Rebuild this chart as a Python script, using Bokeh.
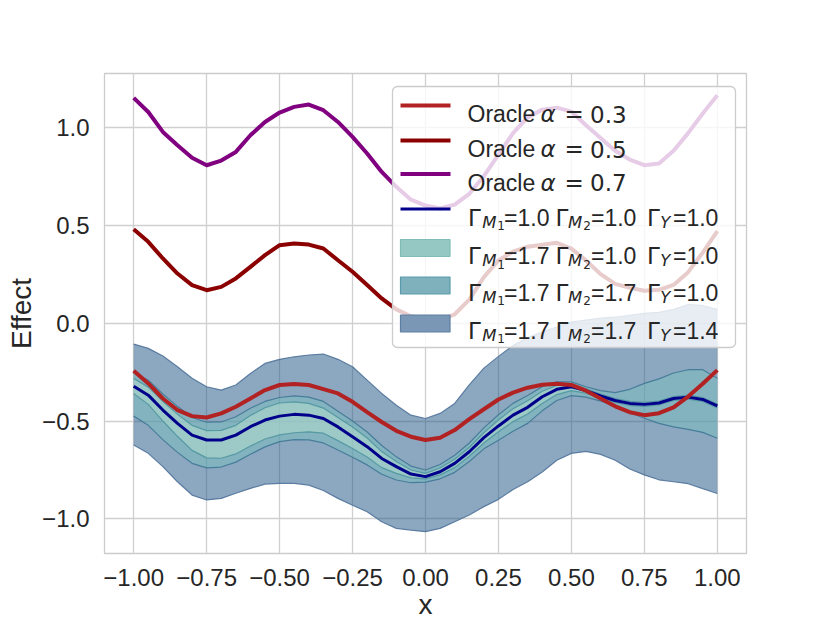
from bokeh.plotting import figure
from bokeh.models import ColumnDataSource, FixedTicker
from bokeh.embed import file_html
from bokeh.resources import INLINE
from bokeh.core.properties import value

# ---------------- data ----------------
x_vals = [-1.00, -0.95, -0.90, -0.85, -0.80, -0.75, -0.70, -0.65, -0.60, -0.55,
          -0.50, -0.45, -0.40, -0.35, -0.30, -0.25, -0.20, -0.15, -0.10, -0.05,
          0.00, 0.05, 0.10, 0.15, 0.20, 0.25, 0.30, 0.35, 0.40, 0.45,
          0.50, 0.55, 0.60, 0.65, 0.70, 0.75, 0.80, 0.85, 0.90, 0.95, 1.00]

oracle_03 = [-0.243, -0.308, -0.385, -0.444, -0.475, -0.482, -0.461, -0.427, -0.385, -0.342,
             -0.316, -0.311, -0.316, -0.337, -0.359, -0.402, -0.455, -0.505, -0.550, -0.580,
             -0.597, -0.585, -0.546, -0.490, -0.440, -0.390, -0.355, -0.330, -0.315, -0.310,
             -0.316, -0.345, -0.385, -0.425, -0.455, -0.470, -0.460, -0.430, -0.375, -0.310, -0.240]
oracle_05 = [0.479, 0.415, 0.330, 0.253, 0.194, 0.168, 0.185, 0.228, 0.287, 0.347,
             0.398, 0.406, 0.401, 0.381, 0.321, 0.262, 0.194, 0.126, 0.070, 0.035,
             0.020, 0.015, 0.045, 0.120, 0.235, 0.320, 0.365, 0.390, 0.400, 0.410,
             0.380, 0.320, 0.250, 0.200, 0.180, 0.165, 0.170, 0.195, 0.260, 0.360, 0.470]
oracle_07 = [1.150, 1.078, 0.976, 0.908, 0.844, 0.806, 0.830, 0.874, 0.959, 1.027,
             1.075, 1.104, 1.116, 1.087, 1.027, 0.951, 0.866, 0.772, 0.696, 0.630,
             0.600, 0.585, 0.605, 0.660, 0.750, 0.860, 0.970, 1.050, 1.090, 1.100,
             1.080, 1.010, 0.945, 0.880, 0.835, 0.806, 0.815, 0.880, 0.970, 1.070, 1.163]

base_effect = [-0.322, -0.368, -0.444, -0.512, -0.572, -0.597, -0.597, -0.572, -0.529, -0.495,
               -0.475, -0.466, -0.470, -0.487, -0.530, -0.580, -0.631, -0.691, -0.733, -0.771,
               -0.784, -0.759, -0.716, -0.657, -0.585, -0.525, -0.470, -0.430, -0.376, -0.338,
               -0.325, -0.345, -0.372, -0.395, -0.410, -0.415, -0.408, -0.385, -0.378, -0.390, -0.423]

m1_upper = [-0.283, -0.327, -0.400, -0.465, -0.522, -0.549, -0.548, -0.522, -0.472, -0.432,
            -0.408, -0.402, -0.410, -0.434, -0.482, -0.530, -0.587, -0.656, -0.707, -0.750,
            -0.767, -0.740, -0.695, -0.635, -0.560, -0.495, -0.437, -0.396, -0.348, -0.318,
            -0.312, -0.335, -0.362, -0.385, -0.400, -0.405, -0.398, -0.375, -0.368, -0.380, -0.413]
m1_lower = [-0.359, -0.415, -0.500, -0.578, -0.650, -0.688, -0.690, -0.668, -0.628, -0.592,
            -0.571, -0.560, -0.555, -0.562, -0.600, -0.640, -0.684, -0.738, -0.767, -0.790,
            -0.795, -0.775, -0.738, -0.680, -0.612, -0.555, -0.503, -0.464, -0.410, -0.365,
            -0.345, -0.358, -0.382, -0.405, -0.420, -0.425, -0.418, -0.395, -0.388, -0.400, -0.433]

m1m2_upper = [-0.254, -0.292, -0.362, -0.425, -0.482, -0.506, -0.505, -0.478, -0.435, -0.400,
              -0.380, -0.372, -0.378, -0.400, -0.450, -0.500, -0.556, -0.625, -0.683, -0.730,
              -0.750, -0.722, -0.675, -0.612, -0.535, -0.468, -0.410, -0.370, -0.325, -0.300,
              -0.300, -0.325, -0.345, -0.355, -0.338, -0.308, -0.285, -0.255, -0.238, -0.238, -0.282]
m1m2_lower = [-0.475, -0.522, -0.595, -0.660, -0.716, -0.739, -0.735, -0.710, -0.670, -0.632,
              -0.605, -0.595, -0.596, -0.612, -0.648, -0.685, -0.724, -0.772, -0.801, -0.815,
              -0.812, -0.795, -0.762, -0.707, -0.642, -0.598, -0.552, -0.512, -0.448, -0.395,
              -0.370, -0.378, -0.398, -0.425, -0.458, -0.486, -0.512, -0.530, -0.543, -0.558, -0.588]

all_upper = [-0.107, -0.129, -0.168, -0.223, -0.282, -0.325, -0.342, -0.316, -0.257, -0.206,
             -0.185, -0.172, -0.163, -0.158, -0.185, -0.223, -0.291, -0.359, -0.419, -0.470,
             -0.487, -0.461, -0.410, -0.315, -0.230, -0.170, -0.115, -0.075, -0.045, -0.020,
             0.005, 0.015, 0.025, 0.030, 0.040, 0.050, 0.055, 0.070, 0.095, 0.090, 0.070]
all_lower = [-0.622, -0.665, -0.733, -0.810, -0.878, -0.903, -0.895, -0.869, -0.844, -0.822,
             -0.818, -0.818, -0.827, -0.855, -0.895, -0.930, -0.963, -1.014, -1.048, -1.057,
             -1.065, -1.048, -1.014, -0.980, -0.937, -0.900, -0.850, -0.810, -0.760, -0.700,
             -0.665, -0.655, -0.670, -0.700, -0.745, -0.775, -0.800, -0.810, -0.820, -0.845, -0.870]

oracle_alphas = ["0.3", "0.5", "0.7"]
gamma_m1 = ["1.0", "1.7", "1.7", "1.7"]
gamma_m2 = ["1.0", "1.0", "1.7", "1.7"]
gamma_y = ["1.0", "1.0", "1.0", "1.4"]

x_ticks = [-1.0, -0.75, -0.5, -0.25, 0.0, 0.25, 0.5, 0.75, 1.0]
x_tick_labels = ["\u22121.00", "\u22120.75", "\u22120.50", "\u22120.25", "0.00", "0.25", "0.50", "0.75", "1.00"]
y_ticks = [-1.0, -0.5, 0.0, 0.5, 1.0]
y_tick_labels = ["\u22121.0", "\u22120.5", "0.0", "0.5", "1.0"]

# ---------------- styles ----------------
C_O3, C_O5, C_O7, C_BASE = "#b22222", "#8b0000", "#800080", "#00008b"
B1_FILL, B2_FILL, B3_FILL = "#b7dfcf", "#77c0bd", "#1a4f82"
B1_EDGE, B2_EDGE, B3_EDGE = "#5096a0", "#417896", "#50739a"
LG_FILL = ["#96c8c3", "#7fb1bd", "#7a97b5"]
LG_EDGE = ["#7fbcb6", "#5a9aad", "#5d7fa3"]
TXT = "#262626"
GRID = "#d0d0d0"
ARIAL = "Liberation Sans"
MATH = "DejaVu Sans"

all_y = oracle_03 + oracle_05 + oracle_07 + base_effect + all_upper + all_lower
ymin, ymax = min(all_y), max(all_y)
pad = 0.05 * (ymax - ymin)
X0, X1 = -1.1, 1.1
Y0, Y1 = ymin - pad, ymax + pad

p = figure(width=830, height=623, x_range=(X0, X1), y_range=(Y0, Y1),
           output_backend="svg", toolbar_location=None,
           min_border_left=104, min_border_right=84, min_border_top=73, min_border_bottom=70)
p.background_fill_color = "white"
p.border_fill_color = "white"
p.outline_line_color = "#cccccc"
p.outline_line_width = 1.3

p.xaxis.ticker = FixedTicker(ticks=x_ticks)
p.xaxis.major_label_overrides = dict(zip(x_ticks, x_tick_labels))
p.yaxis.ticker = FixedTicker(ticks=y_ticks)
p.yaxis.major_label_overrides = dict(zip(y_ticks, y_tick_labels))
p.xaxis.axis_label = "x"
p.yaxis.axis_label = "Effect"
for ax in (p.xaxis[0], p.yaxis[0]):
    ax.axis_line_color = None
    ax.major_tick_line_color = None
    ax.minor_tick_line_color = None
    ax.major_tick_out = 0
    ax.major_tick_in = 0
    ax.minor_tick_out = 0
    ax.minor_tick_in = 0
    ax.major_label_text_font = ARIAL
    ax.major_label_text_font_size = "24px"
    ax.major_label_text_color = TXT
    ax.axis_label_text_font = ARIAL
    ax.axis_label_text_font_size = "28px"
    ax.axis_label_text_font_style = "normal"
    ax.axis_label_text_color = TXT
p.xaxis.major_label_standoff = 15
p.xaxis.axis_label_standoff = 0
p.yaxis.major_label_standoff = 15
p.yaxis.axis_label_standoff = 2
for g in (p.xgrid[0], p.ygrid[0]):
    g.grid_line_color = GRID
    g.grid_line_width = 1.3

src = ColumnDataSource(dict(x=x_vals, o3=oracle_03, o5=oracle_05, o7=oracle_07, base=base_effect,
                            b1u=m1_upper, b1l=m1_lower, b2u=m1m2_upper, b2l=m1m2_lower,
                            b3u=all_upper, b3l=all_lower))

# bands
p.varea(x="x", y1="b3l", y2="b3u", source=src, fill_color=B3_FILL, fill_alpha=0.5)
p.line("x", "b3u", source=src, line_color=B3_EDGE, line_width=1.2, line_alpha=0.9)
p.line("x", "b3l", source=src, line_color=B3_EDGE, line_width=1.2, line_alpha=0.9)
p.varea(x="x", y1="b2l", y2="b2u", source=src, fill_color=B2_FILL, fill_alpha=0.5)
p.line("x", "b2u", source=src, line_color=B2_EDGE, line_width=1.2, line_alpha=0.9)
p.line("x", "b2l", source=src, line_color=B2_EDGE, line_width=1.2, line_alpha=0.9)
p.varea(x="x", y1="b1l", y2="b1u", source=src, fill_color=B1_FILL, fill_alpha=0.5)
p.line("x", "b1u", source=src, line_color=B1_EDGE, line_width=1.2, line_alpha=0.9)
p.line("x", "b1l", source=src, line_color=B1_EDGE, line_width=1.2, line_alpha=0.9)

# lines
p.line("x", "base", source=src, line_color=C_BASE, line_width=3, line_join="round")
p.line("x", "o3", source=src, line_color=C_O3, line_width=4, line_join="round")
p.line("x", "o5", source=src, line_color=C_O5, line_width=4, line_join="round")
p.line("x", "o7", source=src, line_color=C_O7, line_width=4, line_join="round")

# ---------------- custom legend (page-pixel layout -> data coords) ----------------
FR_L, FR_R, FR_T, FR_B = 104.0, 746.0, 73.0, 553.0


def sx(px):
    return X0 + (px - FR_L) / (FR_R - FR_L) * (X1 - X0)


def sy(py):
    return Y1 - (py - FR_T) / (FR_B - FR_T) * (Y1 - Y0)


p.quad(left=[sx(392)], right=[sx(735)], top=[sy(86)], bottom=[sy(347)],
       fill_color="white", fill_alpha=0.8, line_color="#cccccc", line_width=1.3,
       border_radius=5)

line_rows_y = [105, 140, 173.5, 208.5]
line_cols = [C_O3, C_O5, C_O7, C_BASE]
line_w = [4, 4, 4, 3]
for yy, cc, ww in zip(line_rows_y, line_cols, line_w):
    p.segment(x0=[sx(400)], y0=[sy(yy)], x1=[sx(450)], y1=[sy(yy)], line_color=cc, line_width=ww)

patch_rows_y = [247.5, 285, 323]
for yy, fc, ec in zip(patch_rows_y, LG_FILL, LG_EDGE):
    p.quad(left=[sx(400)], right=[sx(449.5)], top=[sy(yy - 8.5)], bottom=[sy(yy + 8.5)],
           fill_color=fc, line_color=ec, line_width=1.2)


def add_text(xs, ys, texts, font, size, style="normal"):
    p.text(x=[sx(v) for v in xs], y=[sy(v) for v in ys], text=texts,
           text_font=value(font), text_font_size=value(size), text_font_style=value(style),
           text_color=TXT, text_baseline="alphabetic", text_align="left")


LEG_SIZE = "23px"
# oracle rows
oracle_base = [113.5, 148.5, 182]
add_text([467] * 3, oracle_base, ["Oracle"] * 3, ARIAL, LEG_SIZE)
add_text([540] * 3, oracle_base, ["\u03b1"] * 3, MATH, LEG_SIZE, "italic")
add_text([564] * 3, oracle_base, ["="] * 3, MATH, LEG_SIZE)
add_text([589.5] * 3, oracle_base, oracle_alphas, MATH, LEG_SIZE)

# gamma rows
gamma_base = [217.3, 255.7, 292.3, 330]
gam_x = [467.5, 555, 646.5]
sub_x = [481.8, 567.5, 659.8]
subsub_x = [496.8, 582.8]
val_x = [503.6, 590.5, 672.5]
gx, gy, gt = [], [], []
for b in gamma_base:
    for g in gam_x:
        gx.append(g); gy.append(b); gt.append("\u0393")
add_text(gx, gy, gt, MATH, LEG_SIZE)
sx_, sy_, st_ = [], [], []
for b in gamma_base:
    for s, lab in zip(sub_x, ["M", "M", "Y"]):
        sx_.append(s); sy_.append(b + 4.5); st_.append(lab)
add_text(sx_, sy_, st_, MATH, "16.5px", "italic")
ssx, ssy, sst = [], [], []
for b in gamma_base:
    for s, lab in zip(subsub_x, ["1", "2"]):
        ssx.append(s); ssy.append(b + 8); sst.append(lab)
add_text(ssx, ssy, sst, MATH, "12px")
vx, vy, vt = [], [], []
for b, a, c, d in zip(gamma_base, gamma_m1, gamma_m2, gamma_y):
    for s, v in zip(val_x, [a, c, d]):
        vx.append(s); vy.append(b); vt.append("=" + v)
add_text(vx, vy, vt, ARIAL, LEG_SIZE)

open("out.html", "w").write(file_html(p, INLINE))
